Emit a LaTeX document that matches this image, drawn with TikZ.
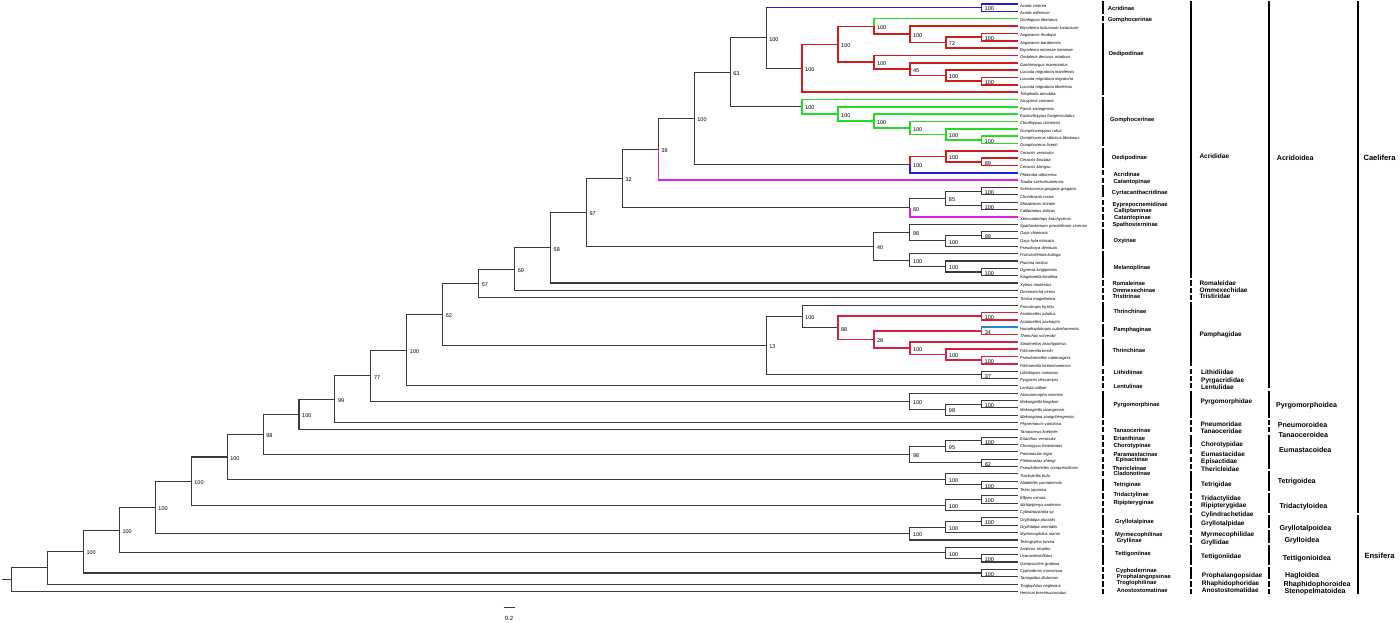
\documentclass[tikz,border=0pt]{standalone}
\usepackage{fontspec}
\setmainfont{Liberation Sans}
\usetikzlibrary{calc}
\definecolor{cBlue}{HTML}{1E1EDC}
\definecolor{cGreen}{HTML}{22DD22}
\definecolor{cRed}{HTML}{D41A1A}
\definecolor{cCrim}{HTML}{D62040}
\definecolor{cSky}{HTML}{2A7FD8}
\definecolor{cMag}{HTML}{E01EE0}
\definecolor{cLine}{HTML}{3A3A3A}
\newcommand\tipnode[2]{\coordinate (t#1) at (1017.6,{4+(#1-1)*7.342});\node[tiplab] (l#1) at (t#1) {#2};}
\newcommand\innode[4]{\path let \p1=(#3),\p2=(#4) in coordinate (#1) at ({(1017.6-35.93*#2)*1pt},{(\y1+\y2)/2});}
\newcommand\labnode[5]{\innode{#1}{#2}{#3}{#4}\node[bslab] (L#1) at (#1) {#5};}
\begin{document}
\begin{tikzpicture}[x=1pt,y=-1pt,
  lk/.style={draw=cLine,line width=1.05pt},
  lb/.style={draw=cBlue,line width=1.6pt},
  lg/.style={draw=cGreen,line width=1.6pt},
  lr/.style={draw=cRed,line width=1.6pt},
  lc/.style={draw=cCrim,line width=1.6pt},
  ls/.style={draw=cSky,line width=1.6pt},
  lm/.style={draw=cMag,line width=1.6pt},
  tiplab/.style={anchor=west,xshift=2.3pt,inner sep=0pt,font=\fontsize{4.1}{4.1}\selectfont\itshape,text height=0.72em,text depth=0.06em},
  bslab/.style={anchor=west,xshift=3pt,inner sep=0pt,font=\fontsize{5.5}{5.5}\selectfont,text height=0.72em,text depth=0.06em},
  c1lab/.style={anchor=west,inner sep=0pt,font=\bfseries\fontsize{5.8}{5.8}\selectfont,text height=0.72em,text depth=0.06em},
  c2lab/.style={anchor=west,inner sep=0pt,font=\bfseries\fontsize{6.5}{6.5}\selectfont,text height=0.72em,text depth=0.06em},
  c3lab/.style={anchor=west,inner sep=0pt,font=\bfseries\fontsize{7.1}{7.1}\selectfont,text height=0.72em,text depth=0.06em},
  c4lab/.style={anchor=west,inner sep=0pt,font=\bfseries\fontsize{7.6}{7.6}\selectfont,text height=0.72em,text depth=0.06em},
  barc/.style={draw=black,line width=2.3pt}]
\fill[white] (0,0) rectangle (1400,622);
\useasboundingbox (0,0) rectangle (1400,622);
% ---- tips
\tipnode{1}{Acrida cinerea}
\tipnode{2}{Acrida willemsei}
\tipnode{3}{Orinhippus tibetanus}
\tipnode{4}{Bryodema luctuosum luctuosum}
\tipnode{5}{Angaracris rhodopa}
\tipnode{6}{Angaracris barabensis}
\tipnode{7}{Bryodema miramae miramae}
\tipnode{8}{Oedaleus decorus asiaticus}
\tipnode{9}{Gastrimargus marmoratus}
\tipnode{10}{Locusta migratoria manilensis}
\tipnode{11}{Locusta migratoria migratoria}
\tipnode{12}{Locusta migratoria tibetensis}
\tipnode{13}{Trilophidia annulata}
\tipnode{14}{Arcyptera coreana}
\tipnode{15}{Pacris xizangensis}
\tipnode{16}{Euchorthippus fusigeniculatus}
\tipnode{17}{Chorthippus chinensis}
\tipnode{18}{Gomphocerippus rufus}
\tipnode{19}{Gomphocerus sibiricus tibetanus}
\tipnode{20}{Gomphocerus licenti}
\tipnode{21}{Ceracris versicolor}
\tipnode{22}{Ceracris fasciata}
\tipnode{23}{Ceracris kiangsu}
\tipnode{24}{Phlaeoba albonema}
\tipnode{25}{Traulia szetschuanensis}
\tipnode{26}{Schistocerca gregaria gregaria}
\tipnode{27}{Chondracris rosea}
\tipnode{28}{Shirakiacris shirakii}
\tipnode{29}{Calliptamus italicus}
\tipnode{30}{Xenocatantops brachycerus}
\tipnode{31}{Spathosternum prasiniferum sinense}
\tipnode{32}{Oxya chinensis}
\tipnode{33}{Oxya hyla intricata}
\tipnode{34}{Pseudoxya diminuta}
\tipnode{35}{Fruhstorferiola kulinga}
\tipnode{36}{Prumna arctica}
\tipnode{37}{Ognevia longipennis}
\tipnode{38}{Kingdonella bicollina}
\tipnode{39}{Xyleus modestus}
\tipnode{40}{Ommexecha virens}
\tipnode{41}{Tristira magellanica}
\tipnode{42}{Pronotropis hystrix}
\tipnode{43}{Asiotmethis jubatus}
\tipnode{44}{Asiotmethis zacharjini}
\tipnode{45}{Humphaplotropis culaishanensis}
\tipnode{46}{Thrinchus schrenkii}
\tipnode{47}{Sinotmethis brachypterus}
\tipnode{48}{Filchnerella beicki}
\tipnode{49}{Pseudotmethis rubimarginis}
\tipnode{50}{Filchnerella helanshanensis}
\tipnode{51}{Lithidiopsis carinatus}
\tipnode{52}{Pyrgacris descampsi}
\tipnode{53}{Lentula callani}
\tipnode{54}{Atractomorpha sinensis}
\tipnode{55}{Mekongiella kingdoni}
\tipnode{56}{Mekongiella xizangensis}
\tipnode{57}{Mekongiana xiangchengensis}
\tipnode{58}{Physemacris variolosa}
\tipnode{59}{Tanaocerus koebelei}
\tipnode{60}{Erianthus versicolor}
\tipnode{61}{Chorotypus fenestratus}
\tipnode{62}{Paramastax nigra}
\tipnode{63}{Pielomastax zhengi}
\tipnode{64}{Pseudothericles compressifrons}
\tipnode{65}{Trachytettix bufo}
\tipnode{66}{Alulatettix yunnanensis}
\tipnode{67}{Tetrix japonica}
\tipnode{68}{Ellipes minuta}
\tipnode{69}{Mirhipipteryx andensis}
\tipnode{70}{Cylindraustralia sp}
\tipnode{71}{Gryllotalpa pluvialis}
\tipnode{72}{Gryllotalpa orientalis}
\tipnode{73}{Myrmecophilus manni}
\tipnode{74}{Teleogryllus emma}
\tipnode{75}{Anabrus simplex}
\tipnode{76}{Uvarovitesinflatus}
\tipnode{77}{Gampsocleis gratiosa}
\tipnode{78}{Cyphoderris monstrosa}
\tipnode{79}{Tarragoilus diuturnus}
\tipnode{80}{Troglophilus neglectus}
\tipnode{81}{Henicus brevimucronatus}
% ---- internal nodes
\labnode{a1}{1}{t1}{t2}{100}
\labnode{a2}{1}{t5}{t6}{100}
\labnode{a3}{2}{a2}{t7}{72}
\labnode{a4}{3}{t4}{a3}{100}
\labnode{a5}{4}{t3}{a4}{100}
\labnode{a6}{1}{t11}{t12}{100}
\labnode{a7}{2}{t10}{a6}{100}
\labnode{a8}{3}{t9}{a7}{45}
\labnode{a9}{4}{t8}{a8}{100}
\labnode{a10}{5}{a5}{a9}{100}
\labnode{a11}{6}{a10}{t13}{100}
\labnode{a12}{7}{a1}{a11}{100}
\labnode{g1}{1}{t19}{t20}{100}
\labnode{g2}{2}{t18}{g1}{100}
\labnode{g3}{3}{t17}{g2}{100}
\labnode{g4}{4}{t16}{g3}{100}
\labnode{g5}{5}{t15}{g4}{100}
\labnode{g6}{6}{t14}{g5}{100}
\labnode{b8}{8}{a12}{g6}{63}
\labnode{c1}{1}{t22}{t23}{89}
\labnode{c2}{2}{t21}{c1}{100}
\labnode{c3}{3}{c2}{t24}{100}
\labnode{b9}{9}{b8}{c3}{100}
\labnode{b10}{10}{b9}{t25}{39}
\labnode{d1}{1}{t26}{t27}{100}
\labnode{d2}{1}{t28}{t29}{100}
\labnode{d3}{2}{d1}{d2}{85}
\labnode{d4}{3}{d3}{t30}{60}
\labnode{b11}{11}{b10}{d4}{32}
\labnode{o1}{1}{t32}{t33}{99}
\labnode{o2}{2}{o1}{t34}{100}
\labnode{o3}{3}{t31}{o2}{98}
\labnode{m1}{1}{t37}{t38}{100}
\labnode{m2}{2}{t36}{m1}{100}
\labnode{m3}{3}{t35}{m2}{100}
\labnode{o4}{4}{o3}{m3}{40}
\labnode{b12}{12}{b11}{o4}{97}
\labnode{b13}{13}{b12}{t39}{58}
\labnode{b14}{14}{b13}{t40}{69}
\labnode{b15}{15}{b14}{t41}{57}
\labnode{p1}{1}{t49}{t50}{100}
\labnode{p2}{2}{t48}{p1}{100}
\labnode{p3}{3}{t47}{p2}{100}
\labnode{p4}{1}{t45}{t46}{34}
\labnode{p5}{4}{p4}{p3}{28}
\labnode{p6}{1}{t43}{t44}{100}
\labnode{p7}{5}{p6}{p5}{88}
\labnode{p8}{6}{t42}{p7}{100}
\labnode{p9}{1}{t51}{t52}{37}
\labnode{p10}{7}{p8}{p9}{13}
\labnode{b16}{16}{b15}{p10}{62}
\labnode{b17}{17}{b16}{t53}{100}
\labnode{q1}{1}{t55}{t56}{100}
\labnode{q2}{2}{q1}{t57}{98}
\labnode{q3}{3}{t54}{q2}{100}
\labnode{b18}{18}{b17}{q3}{77}
\labnode{b19}{19}{b18}{t58}{99}
\labnode{b20}{20}{b19}{t59}{100}
\labnode{e1}{1}{t60}{t61}{100}
\labnode{e2}{2}{e1}{t62}{95}
\labnode{e3}{1}{t63}{t64}{82}
\labnode{e4}{3}{e2}{e3}{98}
\labnode{b21}{21}{b20}{e4}{98}
\labnode{r1}{1}{t66}{t67}{100}
\labnode{r2}{2}{t65}{r1}{100}
\labnode{b22}{22}{b21}{r2}{100}
\labnode{s1}{1}{t68}{t69}{100}
\labnode{s2}{2}{s1}{t70}{100}
\labnode{b23}{23}{b22}{s2}{100}
\labnode{u1}{1}{t71}{t72}{100}
\labnode{u2}{2}{u1}{t73}{100}
\labnode{u3}{3}{u2}{t74}{100}
\labnode{b24}{24}{b23}{u3}{100}
\labnode{v1}{1}{t76}{t77}{100}
\labnode{v2}{2}{t75}{v1}{100}
\labnode{b25}{25}{b24}{v2}{100}
\labnode{w1}{1}{t78}{t79}{100}
\labnode{b26}{26}{b25}{w1}{100}
\innode{b27}{27}{b26}{t80}
\innode{b28}{28}{b27}{t81}
\path let \p1=(b28) in coordinate (rs) at (2pt,\y1);
% ---- edges
\draw[lk] (rs) -- (b28);
\foreach \p/\c in {a12/a11,b8/a12,b8/g6,b9/b8,b9/c3,b10/b9,b11/b10,b11/d4,d4/d3,d3/d1,d3/d2,d1/t26,d1/t27,d2/t28,d2/t29,
  b12/b11,b12/o4,o4/o3,o4/m3,o3/t31,o3/o2,o2/o1,o2/t34,o1/t32,o1/t33,m3/t35,m3/m2,m2/t36,m2/m1,m1/t37,m1/t38,
  b13/b12,b13/t39,b14/b13,b14/t40,b15/b14,b15/t41,b16/b15,b16/p10,p10/p8,p10/p9,p9/t51,p9/t52,p8/t42,p8/p7,
  b17/b16,b17/t53,b18/b17,b18/q3,q3/t54,q3/q2,q2/q1,q2/t57,q1/t55,q1/t56,b19/b18,b19/t58,b20/b19,b20/t59,
  b21/b20,b21/e4,e4/e2,e4/e3,e2/e1,e2/t62,e1/t60,e1/t61,e3/t63,e3/t64,b22/b21,b22/r2,r2/t65,r2/r1,r1/t66,r1/t67,
  b23/b22,b23/s2,s2/s1,s2/t70,s1/t68,s1/t69,b24/b23,b24/u3,u3/u2,u3/t74,u2/u1,u2/t73,u1/t71,u1/t72,
  b25/b24,b25/v2,v2/t75,v2/v1,v1/t76,v1/t77,b26/b25,b26/w1,w1/t78,w1/t79,b27/b26,b27/t80,b28/b27,b28/t81}
  \draw[lk] (\p) |- (\c);
\draw[lk] (a12) -- (a12 |- a1);
\draw[lb] (a12 |- a1) -- (a1);
\foreach \p/\c in {a1/t1,a1/t2,c3/t24} \draw[lb] (\p) |- (\c);
\foreach \p/\c in {a11/a10,a11/t13,a10/a5,a10/a9,a5/a4,a4/t4,a4/a3,a3/a2,a3/t7,a2/t5,a2/t6,a9/t8,a9/a8,a8/t9,a8/a7,a7/t10,a7/a6,a6/t11,a6/t12,
  c3/c2,c2/t21,c2/c1,c1/t22,c1/t23} \draw[lr] (\p) |- (\c);
\foreach \p/\c in {a5/t3,g6/t14,g6/g5,g5/t15,g5/g4,g4/t16,g4/g3,g3/t17,g3/g2,g2/t18,g2/g1,g1/t19,g1/t20} \draw[lg] (\p) |- (\c);
\foreach \p/\c in {b10/t25,d4/t30} \draw[lm] (\p) |- (\c);
\foreach \p/\c in {p7/p6,p6/t43,p6/t44,p7/p5,p5/p4,p5/p3,p4/t46,p3/t47,p3/p2,p2/t48,p2/p1,p1/t49,p1/t50} \draw[lc] (\p) |- (\c);
\draw[ls] (p4) |- (t45);
% ---- bars
\foreach \a/\b in {1/2,3/3,4/13,14/20,21/23,24/24,25/25,26/27,28/28,29/29,30/30,31/31,32/34,35/38,39/39,40/40,41/41,42/44,45/46,47/50,51/51,52/52,53/53,54/57,58/58,59/59,60/60,61/61,62/62,63/63,64/64,65/65,66/67,68/68,69/69,70/70,71/72,73/73,74/74,75/77,78/78,79/79,80/80,81/81}
  \draw[barc] (1103.3,{4+(\a-1)*7.342-2.6}) -- (1103.3,{4+(\b-1)*7.342+2.6});
\foreach \a/\b in {1/38,39/39,40/40,41/41,42/50,51/51,52/52,53/53,54/57,58/58,59/59,60/61,62/62,63/63,64/64,65/67,68/68,69/69,70/70,71/72,73/73,74/74,75/77,78/79,80/80,81/81}
  \draw[barc] (1191.3,{4+(\a-1)*7.342-2.6}) -- (1191.3,{4+(\b-1)*7.342+2.6});
\foreach \a/\b in {1/53,54/57,58/58,59/59,60/64,65/67,68/70,71/72,73/74,75/77,78/79,80/80,81/81}
  \draw[barc] (1269.3,{4+(\a-1)*7.342-2.6}) -- (1269.3,{4+(\b-1)*7.342+2.6});
\foreach \a/\b in {1/70,71/81}
  \draw[barc] (1358.3,{4+(\a-1)*7.342-2.6}) -- (1358.3,{4+(\b-1)*7.342+2.6});
% ---- column labels
\foreach \x/\y/\t [count=\i] in {1107.7/6.7/Acridinae,1107.7/17.7/Gomphocerinae,1108.3/52.3/Oedipodinae,1110/118.3/Gomphocerinae,
  1111.7/156/Oedipodinae,1113.3/173.5/Acridinae,1113.3/180.5/Catantopinae,1111.7/191/Cyrtacanthacridinae,1112.3/203/Eyprepocnemidinae,
  1114/209.3/Calliptaminae,1114/216/Catantopinae,1112.3/222.7/Spathosterninae,1113.3/238.7/Oxyinae,1113.3/265.7/Melanoplinae,
  1112.3/281.7/Romaleinae,1112.3/289.3/Ommexechinae,1112.3/295.3/Tristirinae,1113.3/310/Thrinchinae,1113.3/328.3/Pamphaginae,
  1112.3/349/Thrinchinae,1113.3/370.7/Lithidiinae,1113.3/385/Lentulinae,1113.3/403.3/Pyrgomorphinae,1113.3/429.3/Tanaocerinae,
  1113.3/437.3/Erianthinae,1113.3/444/Chorotypinae,1113.3/452.7/Paramastacinae,1115.7/458/Episactinae,1112.3/467.3/Thericleinae,
  1113.3/472/Cladonotinae,1113.3/483.3/Tetriginae,1113.3/492.7/Tridactylinae,1113.3/500.7/Ripipteryginae,1115/520/Gryllotalpinae,
  1115/533.3/Myrmecophilinae,1116.7/538.7/Gryllinae,1115/552.3/Tettigoniinae,1115.7/569.3/Cyphoderrinae,1116.7/575.3/Prophalangopsinae,
  1116.7/581.3/Troglophilinae,1116.7/588.7/Anostostomatinae}
  \node[c1lab] (sf\i) at (\x,\y) {\t};
\foreach \x/\y/\t [count=\i] in {1199.3/155/Acrididae,1199.3/281.7/Romaleidae,1199.3/289.3/Ommexechidae,1199.3/295.3/Tristiridae,
  1199.3/333.3/Pamphagidae,1201/370.7/Lithidiidae,1201/378.7/Pyrgacrididae,1201/386/Lentulidae,1200.3/400/Pyrgomorphidae,
  1200.3/422.7/Pneumoridae,1200.3/430/Tanaoceridae,1201/442.7/Chorotypidae,1201/452.7/Eumastacidae,1201/460/Episactidae,
  1201/468.3/Thericleidae,1201/483.3/Tetrigidae,1201/496.7/Tridactylidae,1201/504/Ripipterygidae,1201/512.7/Cylindrachetidae,
  1201/521.7/Gryllotalpidae,1201/532.7/Myrmecophilidae,1201/541.3/Gryllidae,1201/555/Tettigoniidae,1201.7/574/Prophalangopsidae,
  1201.7/581.7/Rhaphidophoridae,1201.7/589.3/Anostostomatidae}
  \node[c2lab] (fa\i) at (\x,\y) {\t};
\foreach \x/\y/\t [count=\i] in {1276.7/156.7/Acridoidea,1276/404/Pyrgomorphoidea,1277.7/424/Pneumoroidea,1278.3/434.3/Tanaoceroidea,
  1279/449/Eumastacoidea,1277.7/480/Tetrigoidea,1279.3/505.3/Tridactyloidea,1279.3/526.7/Gryllotalpoidea,1284.3/539.3/Grylloidea,
  1282.7/556.7/Tettigonioidea,1285/574.3/Hagloidea,1283.3/582.7/Rhaphidophoroidea,1284.3/590/Stenopelmatoidea}
  \node[c3lab] (su\i) at (\x,\y) {\t};
\node[c4lab] (so1) at (1363.3,156.7) {Caelifera};
\node[c4lab] (so2) at (1364.3,555) {Ensifera};
% ---- scale bar
\coordinate (sb1) at (503.5,607);
\coordinate (sb2) at (514.5,607);
\draw[lk,line width=0.9pt] (sb1) -- (sb2);
\node[font=\fontsize{6}{6}\selectfont,inner sep=0pt] (sbl) at (509,618) {0.2};
\end{tikzpicture}
\end{document}
